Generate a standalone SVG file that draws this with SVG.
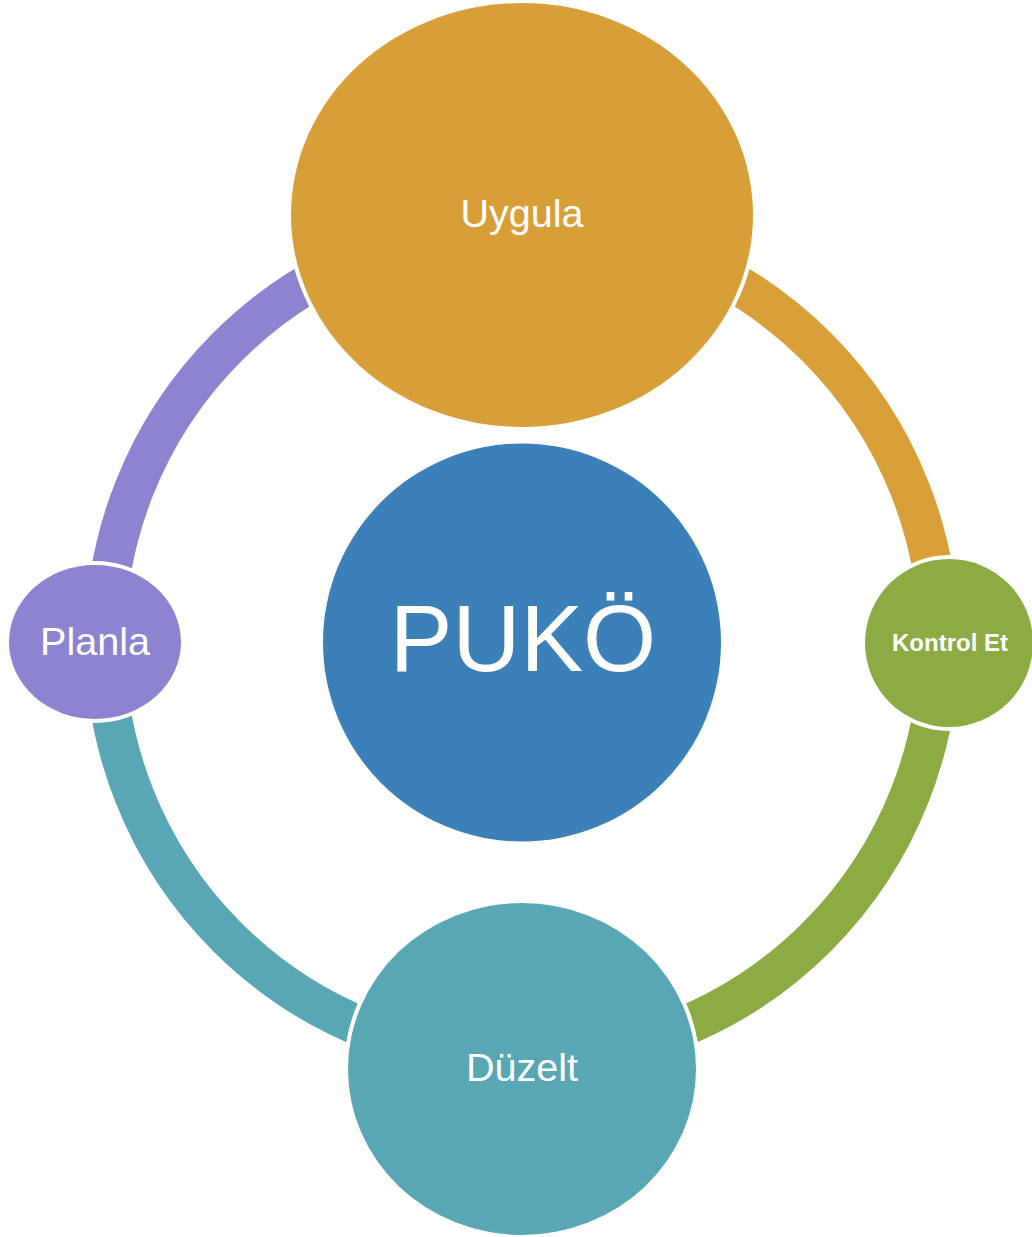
<svg xmlns="http://www.w3.org/2000/svg" width="1032" height="1237" viewBox="0 0 1032 1237">
  <style>
    .arc { fill: none; stroke-width: 40; stroke-linecap: butt; }
    .node { stroke: #FFFFFF; stroke-width: 8; paint-order: stroke; }
    .lbl { fill: #FFFFFF; font-family: "Liberation Sans", Arial, sans-serif; text-anchor: middle; }
  </style>
  <rect width="1032" height="1237" fill="#FFFFFF"/>
  <g id="connectors">
    <path class="arc" stroke="#8C83D1" d="M 105 642 A 417 417 0 0 1 522 225"/>
    <path class="arc" stroke="#D99F39" d="M 522 225 A 417 417 0 0 1 939 642"/>
    <path class="arc" stroke="#8DAB43" d="M 939 642 A 417 417 0 0 1 522 1059"/>
    <path class="arc" stroke="#59A7B4" d="M 522 1059 A 417 417 0 0 1 105 642"/>
  </g>
  <g id="node-uygula">
    <ellipse class="node" cx="522" cy="215" rx="231" ry="212" fill="#D89F39"/>
    <text class="lbl" x="522" y="227" font-size="39.5">Uygula</text>
  </g>
  <g id="node-kontrol">
    <ellipse class="node" cx="949" cy="643" rx="84" ry="84" fill="#8DAB43"/>
    <text class="lbl" x="950" y="651" font-size="24" font-weight="bold">Kontrol Et</text>
  </g>
  <g id="node-duzelt">
    <ellipse class="node" cx="522" cy="1069" rx="174" ry="166" fill="#59A7B4"/>
    <text class="lbl" x="522" y="1081" font-size="39.5">Düzelt</text>
  </g>
  <g id="node-planla">
    <ellipse class="node" cx="95" cy="642" rx="86" ry="77" fill="#8C83D1"/>
    <text class="lbl" x="95" y="655" font-size="39.5">Planla</text>
  </g>
  <g id="node-puko">
    <circle cx="522" cy="642.5" r="199" fill="#3B80B9"/>
    <text class="lbl" x="523" y="671" font-size="94">PUKÖ</text>
  </g>
</svg>
